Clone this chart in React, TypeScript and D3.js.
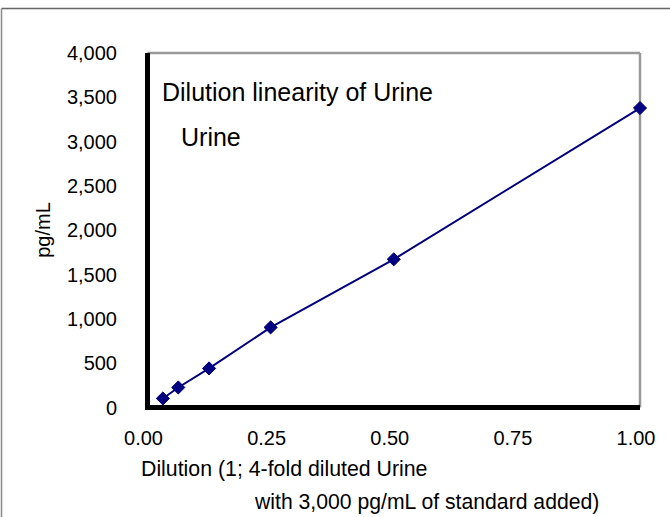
import React from "react";
import * as d3 from "d3";

const dilutions = [0.03125, 0.0625, 0.125, 0.25, 0.5, 1.0];
const concentrations = [102, 226, 441, 904, 1672, 3379];
const xTicks = [0, 0.25, 0.5, 0.75, 1.0];
const yTicks = [0, 500, 1000, 1500, 2000, 2500, 3000, 3500, 4000];
const titleLines = ["Dilution linearity of Urine", "Urine"];
const xLabelLines = ["Dilution (1; 4-fold diluted Urine", "with 3,000 pg/mL of standard added)"];
const yLabel = "pg/mL";

const W = 670;
const H = 517;
const left = 147.5;
const right = 640;
const top = 53;
const bottom = 407.5;
const font = "Arial, 'Liberation Sans', sans-serif";
const navy = "#000080";

export default function App() {
  const x = d3.scaleLinear().domain([0, 1]).range([left, right]);
  const y = d3.scaleLinear().domain([0, 4000]).range([bottom, top]);
  const pts = dilutions.map((d, i) => [x(d), y(concentrations[i])] as [number, number]);
  const line = d3.line<[number, number]>()(pts) || "";
  const fmtY = d3.format(",");
  const fmtX = d3.format(".2f");
  const diamond = d3.symbol().type(d3.symbolDiamond2).size(110)() || "";

  return (
    <svg width={W} height={H} style={{ position: "absolute", left: 0, top: 0, background: "#fff" }}>
      <rect x={0} y={0} width={W} height={H} fill="#fff" />
      {/* outer chart area border */}
      <line x1={1.5} y1={8.5} x2={W} y2={8.5} stroke="#666" strokeWidth={1.5} />
      <line x1={1.5} y1={8.5} x2={1.5} y2={H} stroke="#888" strokeWidth={1.5} />
      {/* plot frame */}
      <line x1={left} y1={top} x2={right} y2={top} stroke="#999" strokeWidth={2.5} />
      <line x1={right} y1={top} x2={right} y2={bottom} stroke="#999" strokeWidth={2.5} />
      <line x1={left} y1={top} x2={left} y2={bottom + 2.5} stroke="#000" strokeWidth={5} />
      <line x1={left - 2.5} y1={bottom} x2={right} y2={bottom} stroke="#000" strokeWidth={5} />
      {/* y ticks */}
      {yTicks.map((t) => (
        <text key={t} x={117} y={y(t)} dy="0.35em" textAnchor="end" fontFamily={font} fontSize={20} fill="#000">
          {fmtY(t)}
        </text>
      ))}
      {xTicks.map((t) => (
        <text key={t} x={x(t) - 4} y={445} textAnchor="middle" fontFamily={font} fontSize={20} fill="#000">
          {fmtX(t)}
        </text>
      ))}
      <text
        transform={`translate(50,${230}) rotate(-90)`}
        textAnchor="middle"
        fontFamily={font}
        fontSize={20}
        fill="#000"
      >
        {yLabel}
      </text>
      <text x={141} y={476} fontFamily={font} fontSize={21.3} fill="#000">{xLabelLines[0]}</text>
      <text x={255} y={509} fontFamily={font} fontSize={21.2} fill="#000">{xLabelLines[1]}</text>
      <text x={162} y={101} fontFamily={font} fontSize={25} fill="#000">{titleLines[0]}</text>
      <text x={181} y={146} fontFamily={font} fontSize={25} fill="#000">{titleLines[1]}</text>
      <path d={line} fill="none" stroke={navy} strokeWidth={2} />
      {pts.map((p, i) => (
        <path key={i} d={diamond} transform={`translate(${p[0]},${p[1]})`} fill={navy} stroke={navy} strokeWidth={1} />
      ))}
    </svg>
  );
}
